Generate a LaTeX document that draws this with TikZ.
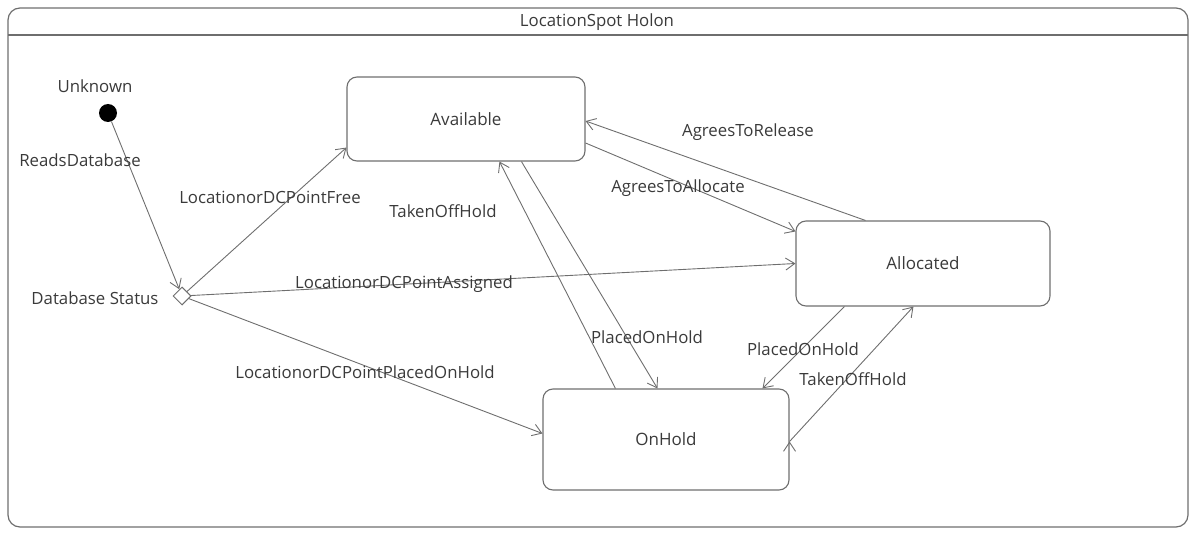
\documentclass[tikz,border=0pt]{standalone}
\usepackage{fontspec}
\setmainfont{Open Sans}
\usepackage{xcolor}
\usepackage{tikz}
\usetikzlibrary{arrows.meta, shapes.geometric}
\usetikzlibrary{calc,positioning}
\definecolor{lncol}{HTML}{6E6E6E}
\definecolor{txtcol}{HTML}{3A3A3A}
\tikzset{
	state/.style={draw=lncol, rounded corners=5pt, line width=0.55pt, font=\fontsize{8.5}{10}\selectfont, text=txtcol, inner sep=0pt},
	lbl/.style={font=\fontsize{8.4}{10}\selectfont, text=txtcol, inner sep=1pt},
	trans/.style={->, draw=lncol, line width=0.45pt}
}

\begin{document}
\begin{tikzpicture}[x=0.5pt, y=-0.5pt, >={Straight Barb[length=4.5pt,width=6pt]}]
		
		\useasboundingbox (0,0) rectangle (1194,535);
		
		% holon frame
		\draw[lncol, line width=0.6pt, rounded corners=6pt] (8,8) rectangle (1188,527);
		\draw[lncol, line width=0.6pt] (8,35) -- (1188,35);
		\node[lbl] (holon) at (597,22) {LocationSpot Holon};
		
		% pseudo states
		\node[circle, fill=black, minimum size=9pt, inner sep=0pt] (init) at (108,113) {};
		\node[lbl] (unknown) at (95,86) {Unknown};
		\node[diamond, draw=lncol, fill=white, line width=0.5pt, minimum size=9pt, inner sep=0pt] (dbs) at (182,296) {};
		\node[lbl] (dbstatus) at (95,298) {Database Status};
		
		% states
		\node[state, minimum width=119pt, minimum height=42pt] (avail) at (466,119) {Available};
		\node[state, minimum width=127pt, minimum height=42.5pt] (alloc) at (923,263.5) {Allocated};
		\node[state, minimum width=123pt, minimum height=50.5pt] (onhold) at (666,439.5) {OnHold};
		
		% transitions
		\path[trans]
		(init) edge (dbs)
		(dbs) edge ($(avail.south west)+(0,-14)$)
		(dbs) edge (alloc.west)
		(dbs) edge ($(onhold.west)+(0,-6)$)
		($(alloc.north west)+(70,0)$) edge ($(avail.east)+(0,2)$)
		($(avail.east)+(0,24)$) edge ($(alloc.north west)+(0,11)$)
		($(onhold.north west)+(73,0)$) edge ($(avail.south west)+(153,0)$)
		($(avail.south west)+(175,0)$) edge ($(onhold.north west)+(115,0)$)
		($(alloc.south west)+(49,0)$) edge ($(onhold.north west)+(220,0)$)
		($(onhold.east)+(0,2)$) edge ($(alloc.south west)+(118,0)$)
		;
		
		% transition labels
		\node[lbl] (reads) at (80,160) {ReadsDatabase};
		\node[lbl] (free) at (270,197) {LocationorDCPointFree};
		\node[lbl] (assigned) at (404,284) {LocationorDCPointAssigned};
		\node[lbl] (placedloc) at (365,372) {LocationorDCPointPlacedOnHold};
		\node[lbl] (release) at (748,132) {AgreesToRelease};
		\node[lbl] (allocate) at (678,188) {AgreesToAllocate};
		\node[lbl] (takenA) at (443,211) {TakenOffHold};
		\node[lbl] (placedA) at (647,337) {PlacedOnHold};
		\node[lbl] (placedB) at (803,349) {PlacedOnHold};
		\node[lbl] (takenB) at (853,379) {TakenOffHold};
		
\end{tikzpicture}
\end{document}
